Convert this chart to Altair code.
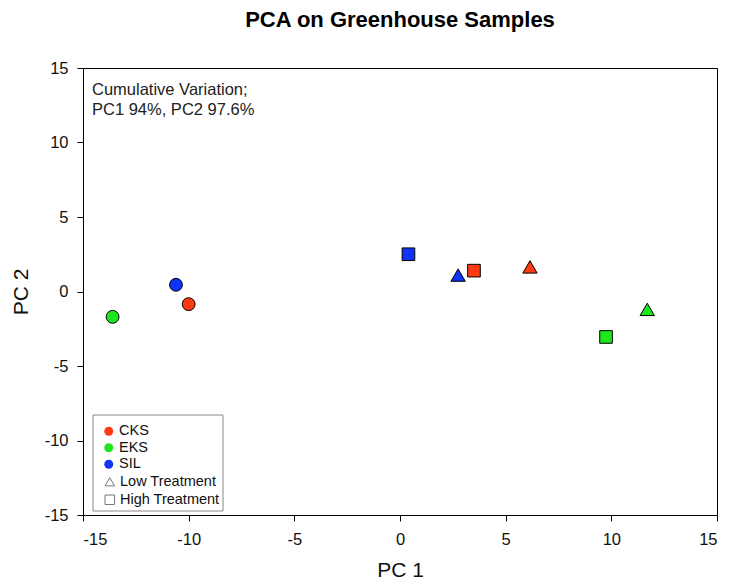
import altair as alt
import pandas as pd

# PCA scores per site and treatment
sites = ["CKS", "CKS", "CKS", "EKS", "EKS", "EKS", "SIL", "SIL", "SIL"]
treatments = ["Control", "Low Treatment", "High Treatment"] * 3
pc1 = [-10.0, 6.15, 3.5, -13.6, 11.7, 9.75, -10.6, 2.75, 0.4]
pc2 = [-0.85, 1.65, 1.4, -1.7, -1.2, -3.05, 0.45, 1.1, 2.5]

site_names = ["CKS", "EKS", "SIL"]
site_colors = ["#FF3A12", "#1EE61E", "#1034F5"]
treatment_names = ["Control", "Low Treatment", "High Treatment"]
treatment_shapes = ["circle", "triangle-up", "square"]
treatment_sizes = [165, 205, 160]
tick_values = [-15, -10, -5, 0, 5, 10, 15]

chart_title = "PCA on Greenhouse Samples"
note_lines = ["Cumulative Variation;", "PC1 94%, PC2 97.6%"]

df = pd.DataFrame({"site": sites, "treatment": treatments, "pc1": pc1, "pc2": pc2})

FONT = "Liberation Sans"
W, H = 634, 447

x_scale = alt.Scale(domain=[-15, 15], nice=False, zero=False)
y_scale = alt.Scale(domain=[-15, 15], nice=False, zero=False)

# plain hyphen for negative tick labels
hyphen_labels = "datum.value < 0 ? '-' + abs(datum.value) : '' + datum.value"

axis_style = dict(
    values=tick_values, grid=False, tickSize=6, domainColor="black", tickColor="black",
    labelFont=FONT, labelFontSize=16.5, labelColor="#111111", labelExpr=hyphen_labels,
    titleFont=FONT, titleFontSize=21, titleFontWeight="normal", titleColor="#111111",
)

enc = dict(
    x=alt.X("pc1:Q", scale=x_scale, title="PC 1",
            axis=alt.Axis(labelPadding=10, titlePadding=12, **axis_style)),
    y=alt.Y("pc2:Q", scale=y_scale, title="PC 2",
            axis=alt.Axis(labelPadding=9, titlePadding=13, **axis_style)),
    color=alt.Color("site:N", scale=alt.Scale(domain=site_names, range=site_colors),
                    legend=alt.Legend(title=None, orient="none", legendX=18.5, legendY=356,
                                      symbolType="circle", symbolSize=80, symbolStrokeWidth=0,
                                      labelFontSize=14.5, labelFont=FONT, labelColor="#111111",
                                      rowPadding=1.5, labelOffset=3)),
    shape=alt.Shape("treatment:N", scale=alt.Scale(domain=treatment_names, range=treatment_shapes),
                    legend=alt.Legend(title=None, orient="none", legendX=19.5, legendY=406.5,
                                      values=["Low Treatment", "High Treatment"],
                                      symbolSize=90, symbolFillColor="white",
                                      symbolStrokeColor="#777777", symbolStrokeWidth=1,
                                      labelFontSize=14.5, labelFont=FONT, labelColor="#111111",
                                      rowPadding=3, labelOffset=3)),
)

# one layer per treatment so each marker shape gets its own size
point_layers = [
    alt.Chart(df).transform_filter(alt.datum.treatment == name)
    .mark_point(filled=True, size=sz, stroke="black", strokeWidth=1, opacity=1)
    .encode(**enc)
    for name, sz in zip(treatment_names, treatment_sizes)
]

# box around the legend
legend_box = alt.Chart(pd.DataFrame({"k": [0]})).mark_rect(
    fill="white", stroke="#888888", strokeWidth=1
).encode(x=alt.value(10), x2=alt.value(140), y=alt.value(347), y2=alt.value(443))

note = alt.Chart(pd.DataFrame({"t": [note_lines]})).mark_text(
    align="left", baseline="top", font=FONT, fontSize=16.5, color="#222222", lineHeight=20
).encode(x=alt.value(9), y=alt.value(14), text="t")

title = alt.Chart(pd.DataFrame({"t": [chart_title]})).mark_text(
    align="center", baseline="alphabetic", font=FONT, fontSize=22, fontWeight="bold", color="black"
).encode(x=alt.value(W / 2), y=alt.value(-41), text="t")

chart = alt.layer(legend_box, *point_layers, note, title).properties(
    width=W, height=H,
    autosize=alt.AutoSizeParams(type="none"),
    padding={"left": 83, "top": 68, "right": 13, "bottom": 71},
    background="white",
).configure_view(stroke="black", strokeWidth=1)

chart.save("out.html", embed_options={"renderer": "svg", "actions": False})
